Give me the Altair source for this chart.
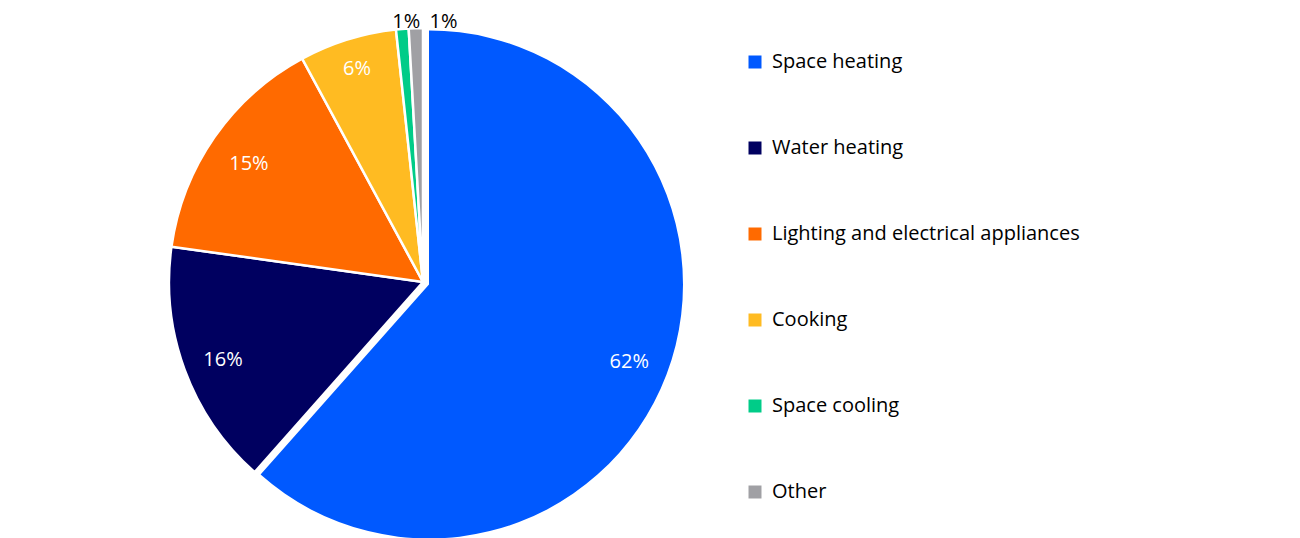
import altair as alt
import pandas as pd

categories = ["Space heating", "Water heating", "Lighting and electrical appliances",
              "Cooking", "Space cooling", "Other"]
values = [61.6, 15.7, 14.9, 6.2, 0.8, 0.9]
labels = ["62%", "16%", "15%", "6%", "1%", "1%"]
colors = ["#0059FF", "#000060", "#FF6A00", "#FFBB22", "#00CC88", "#A0A0A4"]

df = pd.DataFrame({"cat": categories, "val": values, "lab": labels,
                   "order": list(range(len(categories)))})

FONT = "Open Sans"
CX, CY, R = 415, 274, 254

color = alt.Color("cat:N", scale=alt.Scale(domain=categories, range=colors),
                  legend=alt.Legend(title=None, orient="none", legendX=737, legendY=44,
                                    symbolType="square", symbolSize=169,
                                    symbolStrokeWidth=0,
                                    labelFontSize=20, labelFont=FONT, labelColor="#000",
                                    rowPadding=66, labelOffset=7, labelLimit=400))

theta = alt.Theta("val:Q", stack=True, sort=None)
order = alt.Order("order:Q")

base = alt.Chart(df)

rest = base.mark_arc(radius=R, stroke="white", strokeWidth=2.5).encode(
    theta=theta, order=order, color=color,
    x=alt.value(CX), y=alt.value(CY),
    opacity=alt.condition(alt.datum.cat == "Space heating", alt.value(0), alt.value(1)),
)

main = base.mark_arc(radius=R, stroke="white", strokeWidth=0, xOffset=6, yOffset=2.5).encode(
    theta=theta, order=order, color=color,
    x=alt.value(CX), y=alt.value(CY),
    opacity=alt.condition(alt.datum.cat == "Space heating", alt.value(1), alt.value(0)),
)


def label_layer(cat, radius, dx, dy, col, size=20):
    return base.mark_text(radius=radius, font=FONT, fontSize=size, color=col,
                          dx=dx, dy=dy).encode(
        theta=theta, order=order,
        x=alt.value(CX), y=alt.value(CY),
        text=alt.condition(alt.datum.cat == cat, "lab:N", alt.value("")),
    )


texts = [
    label_layer("Space heating", 212, 8, 5, "white"),
    label_layer("Water heating", 212, -1, 5, "white"),
    label_layer("Lighting and electrical appliances", 212, 0, 3, "white"),
    label_layer("Cooking", 226, 1, 3, "white"),
    label_layer("Space cooling", 266, 5, 5, "black"),
    label_layer("Other", 266, 28, 6, "black"),
]

chart = alt.layer(rest, main, *texts).properties(
    width=1284, height=530,
    autosize=alt.AutoSizeParams(type="none"),
    padding=0,
).configure_view(stroke=None)

chart.save("out.html", embed_options={"renderer": "svg", "actions": False})
